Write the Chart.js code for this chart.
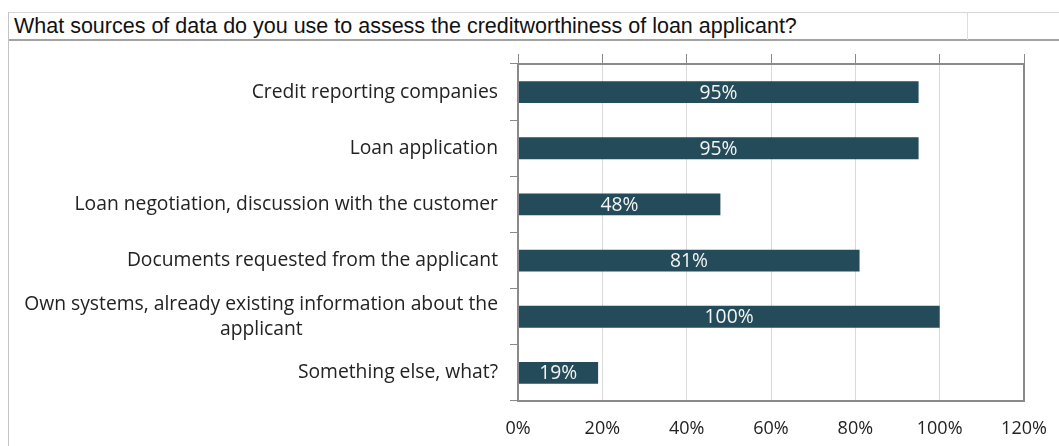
<!DOCTYPE html>
<html>
<head>
<meta charset="utf-8">
<script src="https://cdn.jsdelivr.net/npm/chart.js@4"></script>
<style>
  body { margin: 0; background: #fff; }
  #sheet { position: absolute; left: 8px; top: 12px; width: 1051px; height: 434px; border-left: 1px solid #c4c4c4; }
  #titleRow { position: absolute; left: 0; top: 0; width: 1051px; height: 29px; box-sizing: border-box;
              border-top: 1px solid #d6d6d6; border-bottom: 2px solid #a3a3a3;
              font: 21.5px "Liberation Sans", Arial, sans-serif; color: #111; line-height: 26px; padding-left: 5px; white-space: nowrap; }
  .cellLine { position: absolute; top: 0; width: 1px; height: 27px; background: #dcdcdc; }
  #chartBox { position: absolute; left: 1px; top: 30px; width: 1050px; height: 404px; }
</style>
</head>
<body>
<div id="sheet">
  <div id="titleRow">What sources of data do you use to assess the creditworthiness of loan applicant?
    <div class="cellLine" style="left:958px"></div>
  </div>
  <div id="chartBox"><canvas id="sourcesChart"></canvas></div>
</div>
<script>
// Survey answers, share of respondents (%)
const categories = [
    'Credit reporting companies',
    'Loan application',
    'Loan negotiation, discussion with the customer',
    'Documents requested from the applicant',
    ['Own systems, already existing information about the', 'applicant'],
    'Something else, what?'
];
const shares = [95, 95, 48, 81, 100, 19];
const xTicks = [0, 20, 40, 60, 80, 100, 120];

const labelSize = 19.3;
const labelFont = labelSize + 'px "Open Sans"';

// Pad the shorter lines of a wrapped label so they sit centred under the longest one
function centerLines(lines) {
    const ctx = document.createElement('canvas').getContext('2d');
    ctx.font = labelFont;
    const widest = Math.max(...lines.map(l => ctx.measureText(l).width));
    const space = ctx.measureText(' ').width;
    return lines.map(l => {
        const n = Math.round((widest - ctx.measureText(l).width) / 2 / space);
        return l + ' '.repeat(n);
    });
}

// White value text in the middle of each bar
const barValueLabels = {
    id: 'barValueLabels',
    afterDatasetsDraw(chart) {
        const ctx = chart.ctx;
        const meta = chart.getDatasetMeta(0);
        ctx.save();
        ctx.font = labelFont;
        ctx.fillStyle = '#f4f4f4';
        ctx.textAlign = 'center';
        ctx.textBaseline = 'middle';
        meta.data.forEach((bar, i) => {
            ctx.fillText(shares[i] + '%', (bar.x + bar.base) / 2, bar.y + 1);
        });
        ctx.restore();
    }
};

// Grey frame round the plot area
const plotFrame = {
    id: 'plotFrame',
    afterDraw(chart) {
        const { ctx, chartArea: a } = chart;
        ctx.save();
        ctx.strokeStyle = '#8a8a8a';
        ctx.lineWidth = 2;
        ctx.strokeRect(a.left, a.top, a.right - a.left, a.bottom - a.top);
        ctx.restore();
    }
};

let sourcesChart;

function setupChart() {
    const labels = categories.map(c => Array.isArray(c) ? centerLines(c) : c);
    const ctx = document.getElementById('sourcesChart').getContext('2d');
    sourcesChart = new Chart(ctx, {
        type: 'bar',
        data: {
            labels: labels,
            datasets: [{
                data: shares,
                backgroundColor: '#244b59',
                barPercentage: 0.39,
                categoryPercentage: 1
            }]
        },
        options: {
            indexAxis: 'y',
            responsive: true,
            maintainAspectRatio: false,
            animation: false,
            layout: { padding: { top: 12, right: 36, bottom: 6, left: 0 } },
            plugins: { legend: { display: false }, tooltip: { enabled: false } },
            scales: {
                x: {
                    position: 'bottom',
                    min: 0, max: 120,
                    afterBuildTicks: s => { s.ticks = xTicks.map(v => ({ value: v })); },
                    afterFit: s => { s.height = 39; s.paddingLeft = 0; s.paddingRight = 0; },
                    grid: { color: '#d9d9d9', drawTicks: false },
                    border: { display: false },
                    ticks: {
                        font: { family: 'Open Sans', size: 18 },
                        color: '#222',
                        padding: 17,
                        callback: v => v + '%'
                    }
                },
                x2: {
                    position: 'top',
                    axis: 'x',
                    min: 0, max: 120,
                    afterBuildTicks: s => { s.ticks = xTicks.map(v => ({ value: v })); },
                    grid: { drawOnChartArea: false, tickLength: 10, color: '#8a8a8a' },
                    border: { display: false },
                    ticks: { display: false }
                },
                y: {
                    afterFit: s => { s.width = 508; s.paddingTop = 0; s.paddingBottom = 0; },
                    grid: { offset: true, drawOnChartArea: false, tickLength: 8, color: '#8a8a8a' },
                    border: { display: false },
                    ticks: {
                        autoSkip: false,
                        font: { family: 'Open Sans', size: labelSize, lineHeight: 1.3 },
                        color: '#222',
                        padding: 12
                    }
                }
            }
        },
        plugins: [barValueLabels, plotFrame]
    });
}

window.onload = setupChart;
</script>
</body>
</html>
